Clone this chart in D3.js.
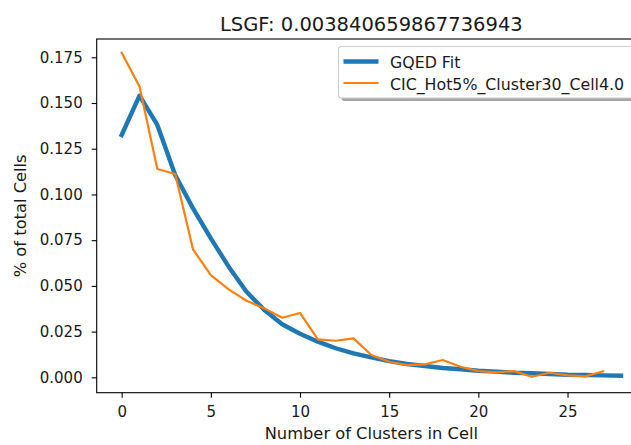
<!DOCTYPE html>
<html>
<head>
<meta charset="utf-8">
<script src="https://cdn.jsdelivr.net/npm/d3@7"></script>
<style>
  body { margin: 0; background: #fff; }
  svg { display: block; font-family: "DejaVu Sans", sans-serif; }
</style>
</head>
<body>
<svg id="chart" width="631" height="445"></svg>
<script>
// number of clusters per cell (x)
const clusterCounts = [0, 1, 2, 3, 4, 5, 6, 7, 8, 9, 10, 11, 12, 13, 14, 15, 16, 17, 18, 19, 20, 21, 22, 23, 24, 25, 26, 27, 28];
// GQED fit (thick blue)
const gqedFit = [0.1325, 0.1540, 0.1380, 0.1106, 0.0924, 0.0760, 0.0605, 0.0468, 0.0368, 0.0290,
    0.0238, 0.0195, 0.0159, 0.0131, 0.0109, 0.0089, 0.0073, 0.0062, 0.0051, 0.0044,
    0.0036, 0.0031, 0.0025, 0.0022, 0.0018, 0.0014, 0.0013, 0.0011, 0.0009];
// measured fractions (orange), one fewer point than the fit
const cicCells = [0.1775, 0.1590, 0.1139, 0.1112, 0.0700, 0.0559, 0.0481, 0.0419, 0.0377, 0.0326,
    0.0352, 0.0208, 0.0200, 0.0213, 0.0122, 0.0085, 0.0067, 0.0071, 0.0095, 0.0058,
    0.0034, 0.0027, 0.0034, 0.0003, 0.0025, 0.0011, 0.0005, 0.0033];
const xTicks = [0, 5, 10, 15, 20, 25];
const yTicks = [0, 0.025, 0.05, 0.075, 0.1, 0.125, 0.15, 0.175];
const seriesNames = ["GQED Fit", "CIC_Hot5%_Cluster30_Cell4.0"];
const titleText = "LSGF: 0.003840659867736943";

const blue = "#1f77b4", orange = "#ff7f0e";
const box = { left: 96.7, right: 646, top: 39, bottom: 392.7 };
const tickFs = 15, labelFs = 16.3, legendFs = 15.8;

const svg = d3.select("#chart");

const x = d3.scaleLinear().domain([-1.4, 29.4]).range([box.left, box.right]);
const y = d3.scaleLinear().domain([-0.0084, 0.185]).range([box.bottom, box.top]);

// lines
const line = d3.line()
    .x(d => x(d[0]))
    .y(d => y(d[1]));

svg.append("path")
    .datum(clusterCounts.map((c, i) => [c, gqedFit[i]]))
    .attr("d", line)
    .attr("fill", "none")
    .attr("stroke", blue)
    .attr("stroke-width", 4.4)
    .attr("stroke-linejoin", "round")
    .attr("stroke-linecap", "square");

svg.append("path")
    .datum(cicCells.map((v, i) => [clusterCounts[i], v]))
    .attr("d", line)
    .attr("fill", "none")
    .attr("stroke", orange)
    .attr("stroke-width", 2.2)
    .attr("stroke-linejoin", "round")
    .attr("stroke-linecap", "square");

// axes
const xAxis = svg.append("g")
    .attr("transform", `translate(0,${box.bottom})`)
    .call(d3.axisBottom(x).tickValues(xTicks).tickFormat(d3.format("d")).tickSize(5).tickPadding(5));
const yAxis = svg.append("g")
    .attr("transform", `translate(${box.left},0)`)
    .call(d3.axisLeft(y).tickValues(yTicks).tickFormat(d3.format(".3f")).tickSize(5).tickPadding(9));

[xAxis, yAxis].forEach(g => {
    g.select(".domain").remove();
    g.selectAll("line").attr("stroke", "#000").attr("stroke-width", 1.1);
    g.selectAll("text")
        .attr("fill", "#1a1a1a")
        .style("font-size", tickFs + "px")
        .style("font-family", "DejaVu Sans");
});
xAxis.selectAll("text").attr("dy", "0.95em");

// spines (right one falls outside the picture)
svg.append("rect")
    .attr("x", box.left).attr("y", box.top)
    .attr("width", box.right - box.left).attr("height", box.bottom - box.top)
    .attr("fill", "none")
    .attr("stroke", "#000")
    .attr("stroke-width", 1.1);

// title and labels
svg.append("text")
    .attr("x", (box.left + box.right) / 2)
    .attr("y", 31)
    .attr("text-anchor", "middle")
    .style("font-size", "19.5px")
    .attr("fill", "#1a1a1a")
    .text(titleText);

svg.append("text")
    .attr("x", (box.left + box.right) / 2)
    .attr("y", 439)
    .attr("text-anchor", "middle")
    .style("font-size", labelFs + "px")
    .attr("fill", "#1a1a1a")
    .text("Number of Clusters in Cell");

svg.append("text")
    .attr("transform", `translate(20,${(box.top + box.bottom) / 2}) rotate(-90)`)
    .attr("text-anchor", "middle")
    .attr("dominant-baseline", "central")
    .style("font-size", labelFs + "px")
    .attr("fill", "#1a1a1a")
    .text("% of total Cells");

// legend with shadow
const lg = svg.append("g").attr("transform", "translate(338.5,46.5)");
const lgW = 300, lgH = 51.5;
lg.append("rect")
    .attr("x", 3).attr("y", 3)
    .attr("width", lgW).attr("height", lgH)
    .attr("rx", 3)
    .attr("fill", "#4d4d4d").attr("opacity", 0.5);
lg.append("rect")
    .attr("width", lgW).attr("height", lgH)
    .attr("rx", 3)
    .attr("fill", "#fff")
    .attr("stroke", "#cccccc")
    .attr("stroke-width", 1.1);

const items = [
    { name: seriesNames[0], color: blue, w: 4.4 },
    { name: seriesNames[1], color: orange, w: 2.2 }
];
items.forEach((it, i) => {
    const yy = 15 + i * 21.5;
    lg.append("line")
        .attr("x1", 5).attr("x2", 40)
        .attr("y1", yy).attr("y2", yy)
        .attr("stroke", it.color)
        .attr("stroke-width", it.w);
    lg.append("text")
        .attr("x", 51.5)
        .attr("y", yy + 1)
        .attr("dominant-baseline", "central")
        .style("font-size", legendFs + "px")
        .attr("fill", "#1a1a1a")
        .text(it.name);
});
</script>
</body>
</html>
